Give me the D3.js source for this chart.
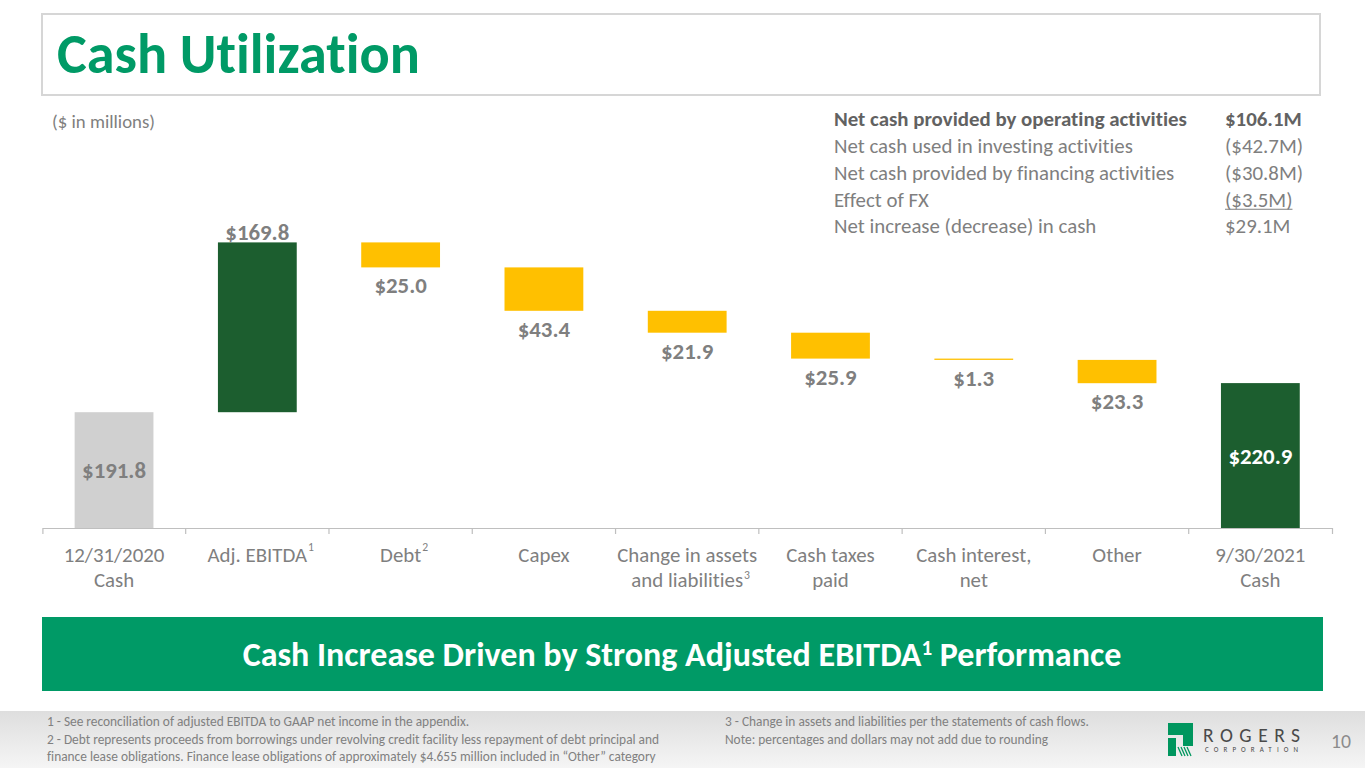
<!DOCTYPE html>
<html>
<head>
<meta charset="utf-8">
<script src="https://cdn.jsdelivr.net/npm/d3@7"></script>
<style>
  html, body { margin: 0; padding: 0; background: #fff; }
  svg { display: block; }
  text { font-family: Carlito, Lato, "Open Sans", sans-serif; font-variant-ligatures: none; font-feature-settings: "liga" 0, "clig" 0; }
</style>
</head>
<body>
<svg id="chart" width="1365" height="768"></svg>
<script>
// ---------------- DATA ----------------
const categories = ["12/31/2020 Cash", "Adj. EBITDA", "Debt", "Capex",
  "Change in assets and liabilities", "Cash taxes paid", "Cash interest, net", "Other", "9/30/2021 Cash"];
const categoryLines = [["12/31/2020", "Cash"], ["Adj. EBITDA"], ["Debt"], ["Capex"],
  ["Change in assets", "and liabilities"], ["Cash taxes", "paid"], ["Cash interest,", "net"], ["Other"], ["9/30/2021", "Cash"]];
const footnoteMarks = ["", "1", "2", "", "3", "", "", "", ""];
const values = [191.8, 169.8, -25.0, -43.4, -21.9, -25.9, -1.3, -23.3, 220.9];
const kinds = ["start", "increase", "decrease", "decrease", "decrease", "decrease", "decrease", "decrease", "end"];
const valueLabels = ["$191.8", "$169.8", "$25.0", "$43.4", "$21.9", "$25.9", "$1.3", "$23.3", "$220.9"];

const summaryLabels = ["Net cash provided by operating activities", "Net cash used in investing activities",
  "Net cash provided by financing activities", "Effect of FX", "Net increase (decrease) in cash"];
const summaryValues = ["$106.1M", "($42.7M)", "($30.8M)", "($3.5M)", "$29.1M"];

const footnotesLeft = ["1 - See reconciliation of adjusted EBITDA to GAAP net income in the appendix.",
  "2 - Debt represents proceeds from borrowings under revolving credit facility less repayment of debt principal and",
  "finance lease obligations. Finance lease obligations of approximately $4.655 million included in \u201cOther\u201d category"];
const footnotesRight = ["3 - Change in assets and liabilities per the statements of cash flows.",
  "Note: percentages and dollars may not add due to rounding"];

// ---------------- HELPERS ----------------
const svg = d3.select("#chart");
function fit(sel, target) {
  const w = sel.node().getComputedTextLength();
  const fs = parseFloat(sel.attr("font-size"));
  const nfs = fs * target / w;
  sel.attr("font-size", nfs);
  return nfs;
}
function measure(txt, size, weight) {
  const t = svg.append("text").attr("font-size", size).attr("font-weight", weight || "normal").text(txt);
  const w = t.node().getComputedTextLength();
  t.remove();
  return w;
}

const GREEN = "#009a66";
const GRAY_TXT = "#7f7f7f";

// ---------------- TITLE ----------------
svg.append("rect").attr("x", 42).attr("y", 14).attr("width", 1278).attr("height", 81)
  .attr("fill", "#fff").attr("stroke", "#d6d6d6").attr("stroke-width", 2);
const title = svg.append("text").attr("x", 57).attr("y", 73).attr("font-size", 54)
  .attr("font-weight", "bold").attr("fill", GREEN).text("Cash Utilization");
fit(title, 363);

const units = svg.append("text").attr("x", 52).attr("y", 128).attr("font-size", 17)
  .attr("fill", GRAY_TXT).text("($ in millions)");
fit(units, 103);

// ---------------- SUMMARY TABLE ----------------
const rowY = d3.scalePoint().domain(d3.range(summaryLabels.length)).range([119, 226]);
const regSize = (18 * 299) / measure(summaryLabels[1], 18, "normal");
const boldSize = (18 * 353) / measure(summaryLabels[0], 18, "bold");
const VAL_X = 1225;
summaryLabels.forEach((s, i) => {
  const bold = i === 0;
  const size = bold ? boldSize : regSize;
  const col = bold ? "#626262" : GRAY_TXT;
  svg.append("text").attr("x", 834).attr("y", rowY(i)).attr("dy", "0.35em")
    .attr("font-size", size).attr("font-weight", bold ? "bold" : "normal")
    .attr("fill", col).text(s);
  const v = svg.append("text").attr("x", VAL_X).attr("y", rowY(i)).attr("dy", "0.35em")
    .attr("font-size", size).attr("font-weight", bold ? "bold" : "normal")
    .attr("fill", col).text(summaryValues[i]);
  if (i === 3) {
    const w = v.node().getComputedTextLength();
    svg.append("line").attr("x1", VAL_X).attr("x2", VAL_X + w).attr("y1", rowY(i) + 10).attr("y2", rowY(i) + 10)
      .attr("stroke", GRAY_TXT).attr("stroke-width", 1);
  }
});

// ---------------- CHART ----------------
const x = d3.scaleBand().domain(categories).range([42.4, 1332]).paddingInner(0.45).paddingOuter(0.225);
const y = d3.scaleLinear().domain([76, 250]).range([528, 354]);
const yBase = y.domain()[0];

let run = 0;
const bars = values.map((v, i) => {
  let y0, y1;
  if (kinds[i] === "start" || kinds[i] === "end") { y0 = yBase; y1 = v; run = v; }
  else { y0 = run; y1 = run + v; run = run + v; }
  return { cat: categories[i], kind: kinds[i], y0, y1, label: valueLabels[i] };
});
const fillFor = { start: "#d0d0d0", increase: "#1c5e2f", decrease: "#ffc000", end: "#1c5e2f" };

svg.append("g").selectAll("rect").data(bars).join("rect")
  .attr("x", d => x(d.cat)).attr("width", x.bandwidth())
  .attr("y", d => y(Math.max(d.y0, d.y1)))
  .attr("height", d => Math.max(1, Math.abs(y(d.y0) - y(d.y1))))
  .attr("fill", d => fillFor[d.kind]);

// value labels
const lblSize = (20 * 64) / measure("$169.8", 20, "bold");
svg.append("g").selectAll("text").data(bars).join("text")
  .attr("x", d => x(d.cat) + x.bandwidth() / 2)
  .attr("y", d => {
    const top = y(Math.max(d.y0, d.y1)), bot = y(Math.min(d.y0, d.y1));
    if (d.kind === "start" || d.kind === "end") return (top + bot) / 2;
    if (d.kind === "increase") return top - 10;
    return bot + 18;
  })
  .attr("dy", "0.35em").attr("text-anchor", "middle")
  .attr("font-size", lblSize).attr("font-weight", "bold")
  .attr("fill", d => d.kind === "end" ? "#ffffff" : GRAY_TXT)
  .text(d => d.label);

// axis
const axisG = svg.append("g").attr("transform", "translate(0,528)")
  .call(d3.axisBottom(x).tickValues([]).tickSizeOuter(6));
axisG.select(".domain").attr("stroke", "#bfbfbf").attr("stroke-width", 1.2);
const gap = x.step() - x.bandwidth();
axisG.selectAll("line.bound").data(categories.slice(1)).join("line").attr("class", "bound")
  .attr("x1", d => x(d) - gap / 2).attr("x2", d => x(d) - gap / 2)
  .attr("y1", 0).attr("y2", 6).attr("stroke", "#bfbfbf").attr("stroke-width", 1.2);

const catSize = (18 * 140) / measure("Change in assets", 18, "normal");
categories.forEach((c, i) => {
  const cx = x(c) + x.bandwidth() / 2;
  const lines = categoryLines[i];
  lines.forEach((ln, j) => {
    const ly = 555 + j * 25;
    const t = svg.append("text").attr("x", cx).attr("y", ly).attr("dy", "0.35em")
      .attr("text-anchor", "middle").attr("font-size", catSize).attr("fill", GRAY_TXT).text(ln);
    if (j === lines.length - 1 && footnoteMarks[i]) {
      const w = t.node().getComputedTextLength();
      svg.append("text").attr("x", cx + w / 2 + 1).attr("y", ly - (j > 0 ? 5 : 8)).attr("dy", "0.35em")
        .attr("font-size", catSize * 0.56).attr("fill", GRAY_TXT).text(footnoteMarks[i]);
    }
  });
});

// ---------------- BANNER ----------------
svg.append("rect").attr("x", 42).attr("y", 617).attr("width", 1281).attr("height", 74).attr("fill", GREEN);
const banner = svg.append("text").attr("x", 682).attr("y", 666).attr("text-anchor", "middle")
  .attr("font-size", 30).attr("font-weight", "bold").attr("fill", "#fff");
banner.append("tspan").text("Cash Increase Driven by Strong Adjusted EBITDA");
banner.append("tspan").attr("dy", -11).attr("font-size", "0.62em").text("1");
banner.append("tspan").attr("dy", 11).text(" Performance");
fit(banner, 879);

// ---------------- FOOTER ----------------
const grad = svg.append("defs").append("linearGradient").attr("id", "fgrad")
  .attr("x1", 0).attr("y1", 0).attr("x2", 0).attr("y2", 1);
grad.append("stop").attr("offset", "0%").attr("stop-color", "#dedede");
grad.append("stop").attr("offset", "100%").attr("stop-color", "#f5f5f5");
svg.append("rect").attr("x", 0).attr("y", 711).attr("width", 1365).attr("height", 57).attr("fill", "url(#fgrad)");

const footY = [721, 739, 756];
const footSize = (11 * 613) / measure(footnotesLeft[1], 11, "normal");
footnotesLeft.forEach((s, i) => {
  svg.append("text").attr("x", 47).attr("y", footY[i]).attr("dy", "0.35em")
    .attr("font-size", footSize).attr("fill", "#808080").text(s);
});
footnotesRight.forEach((s, i) => {
  svg.append("text").attr("x", 725).attr("y", footY[i]).attr("dy", "0.35em")
    .attr("font-size", footSize).attr("fill", "#808080").text(s);
});

// logo
const logo = svg.append("g");
logo.append("path").attr("fill", "#00965e")
  .attr("d", "M1168,723 H1193 V746 H1183 V735 H1168 Z");
logo.append("path").attr("fill", "#00965e")
  .attr("d", "M1168,738 H1176 V756 H1168 Z");
[0, 1, 2, 3].forEach(k => {
  logo.append("line").attr("x1", 1178 + k * 3).attr("y1", 747).attr("x2", 1182 + k * 3).attr("y2", 756)
    .attr("stroke", "#00965e").attr("stroke-width", 1.3);
});
logo.append("text").attr("x", 1203).attr("y", 742).attr("font-size", 19.5)
  .attr("textLength", 97).attr("lengthAdjust", "spacing").attr("fill", "#4a4a4a").text("ROGERS");
logo.append("text").attr("x", 1205).attr("y", 752).attr("font-size", 7)
  .attr("textLength", 93).attr("lengthAdjust", "spacing").attr("fill", "#4a4a4a").text("CORPORATION");

const pg = svg.append("text").attr("x", 1331).attr("y", 741).attr("dy", "0.35em").attr("font-size", 18)
  .attr("fill", "#8c8c8c").text("10");
fit(pg, 20);
</script>
</body>
</html>
